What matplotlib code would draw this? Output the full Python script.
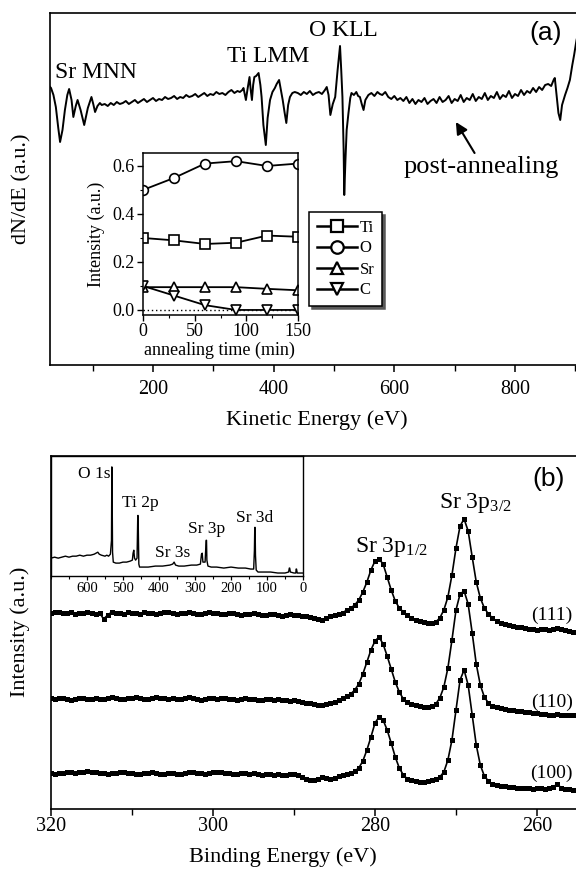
import numpy as np
import matplotlib
matplotlib.use('Agg')
import matplotlib.pyplot as plt
from matplotlib.lines import Line2D
from matplotlib.ticker import MultipleLocator, FormatStrFormatter

plt.rcParams['font.family'] = ['Liberation Serif', 'DejaVu Serif']
plt.rcParams['mathtext.fontset'] = 'stix'

# ---------------- DATA ----------------
# (a) Auger spectrum, kinetic energy (eV) and dN/dE depth (a.u., downward positive)
ke_energy = ([28, 31, 35, 39, 43, 46, 50, 54, 58, 61, 65, 68, 72, 75, 80, 86, 92, 98, 101, 104, 108, 112, 115]
             + list(range(120, 341, 5))
             + [344, 348, 350, 352, 354, 357, 360, 362, 364, 366, 368, 371, 375, 378, 380, 383, 387, 390,
                394, 398, 402, 405, 409, 412, 415, 418, 421, 424, 427, 431, 435]
             + list(range(440, 486, 5))
             + [488, 491, 494, 498, 502, 506, 510, 512, 514, 516, 517, 519, 521, 524, 527, 529, 533, 537,
                540, 543, 546, 549, 552, 557, 562, 567, 572, 576]
             + list(range(580, 851, 5))
             + [855, 860, 864, 866, 869, 872, 875, 878, 883, 887, 891, 895, 898, 902, 906, 910])
ke_depth = ([86, 88, 95, 107, 128, 142, 130, 110, 95, 89, 100, 117, 106, 100, 110, 125, 108, 97, 104, 112, 106, 103, 105]
            + [104, 106, 103, 105, 102, 104, 103, 101, 104, 102, 100, 103, 101, 99, 102, 100, 98, 101, 99, 100,
               97, 99, 98, 96, 99, 97, 98, 95, 97, 96, 94, 97, 95, 93, 96, 94, 95, 92, 94, 93, 95, 92, 90, 93, 91]
            + [92, 90, 88, 94, 100, 88, 77, 90, 100, 85, 77, 76, 73, 85, 97, 125, 145, 118, 100, 92,
               88, 84, 80, 90, 100, 112, 123, 105, 97, 93, 92]
            + [93, 95, 92, 94, 91, 95, 93, 92, 94, 90]
            + [87, 95, 115, 104, 97, 70, 46, 70, 97, 150, 195, 160, 130, 113, 98, 93, 95, 92, 96, 97,
               104, 110, 100, 95, 93, 96, 92, 94]
            + [95, 92, 97, 99, 96, 100, 98, 101, 97, 103, 99, 104, 100, 102, 98, 104, 101, 99, 103, 97,
               102, 100, 96, 103, 99, 101, 95, 102, 98, 100, 94, 101, 97, 99, 93, 100, 96, 98, 92, 99,
               95, 97, 91, 98, 94, 96, 90, 95, 91, 93, 88, 92, 87, 90, 85]
            + [84, 86, 80, 78, 95, 113, 120, 105, 95, 88, 80, 65, 55, 40, 30, 20])

# (a) inset: peak intensities vs annealing time
anneal_time = [0, 30, 60, 90, 120, 150]
int_ti = [0.30, 0.29, 0.275, 0.28, 0.31, 0.305]
int_o = [0.50, 0.55, 0.61, 0.62, 0.60, 0.61]
int_sr = [0.095, 0.095, 0.095, 0.095, 0.088, 0.082]
int_c = [0.10, 0.06, 0.02, 0.0, 0.0, 0.0]

# (b) XPS Sr 3p region, binding energy 320 -> 255 eV in 0.5 eV steps
be_start, be_step = 320.0, 0.5
xps_111 = [287, 288, 288, 287, 287, 288, 286, 287, 287, 288,
           287, 286, 287, 281, 285, 288, 287, 287, 286, 288,
           287, 287, 286, 288, 287, 287, 286, 287, 288, 288,
           287, 286, 287, 287, 288, 287, 286, 286, 287, 288,
           287,
           287, 286, 286, 287, 287, 286, 285, 286, 286, 287,
           286, 285, 285, 286, 286, 285, 284, 285, 286, 285,
           285, 284, 284, 283, 282, 281, 280, 282, 284, 285, 286, 287,
           290, 292, 295, 300, 308, 318, 330, 339, 341, 336,
           323, 310, 299, 292, 288, 285, 282, 280, 279, 278,
           277, 277, 278, 282, 290, 303, 325, 352, 374, 381,
           369, 343, 318, 302, 292, 286, 282, 279, 277, 276,
           275, 274, 273, 273, 272, 271, 271, 270, 271, 271,
           270, 271, 272, 271, 270, 269, 268, 268]
xps_110 = [202, 201, 202, 202, 201, 200, 201, 202, 202, 201,
           201, 202, 201, 201, 202, 203, 202, 201, 201, 202,
           202, 203, 202, 201, 201, 202, 203, 202, 202, 201,
           202, 201, 201, 202, 203, 202, 201, 200, 201, 202,
           202,
           201, 202, 202, 201, 201, 200, 201, 202, 201, 201,
           200, 200, 201, 201, 200, 201, 200, 200, 199, 200,
           199, 198, 197, 197, 196, 195, 195, 196, 197, 198, 200, 202,
           204, 206, 210, 216, 226, 238, 250, 259, 263, 256,
           244, 231, 218, 208, 201, 198, 196, 195, 194, 193,
           193, 194, 196, 202, 213, 232, 260, 290, 306, 309,
           296, 267, 236, 215, 203, 197, 194, 193, 192, 191,
           190, 190, 189, 189, 188, 188, 187, 187, 186, 186,
           185, 185, 186, 185, 185, 185, 185, 185]
xps_100 = [127, 126, 127, 127, 128, 128, 127, 128, 128, 129,
           128, 128, 127, 127, 126, 127, 127, 128, 128, 127,
           127, 126, 126, 127, 127, 128, 127, 126, 126, 127,
           127, 126, 126, 127, 128, 128, 127, 127, 126, 127,
           128,
           128, 128, 127, 127, 126, 126, 127, 127, 126, 127,
           126, 125, 126, 126, 125, 126, 125, 125, 126, 126,
           125, 123, 121, 120, 120, 121, 123, 122, 121, 122, 124, 125,
           126, 127, 129, 132, 139, 150, 163, 177, 183, 180,
           170, 157, 143, 132, 125, 121, 120, 119, 118, 118,
           119, 120, 121, 123, 128, 140, 160, 190, 220, 230,
           215, 185, 155, 135, 124, 119, 116, 115, 114, 114,
           113, 113, 112, 112, 112, 112, 111, 112, 112, 111,
           112, 113, 116, 112, 111, 111, 110, 110]
xps_labels = ['(111)', '(110)', '(100)']

# (b) inset: survey spectrum
survey_be = [700, 690, 680, 670, 660, 650, 640, 630, 620, 610, 600, 590, 580, 575, 570, 566, 560, 550,
             545, 540, 535, 532, 531, 530, 529, 527, 520, 510, 500, 490, 480, 474, 472, 470, 468, 465,
             461, 459, 458, 457, 456, 454, 445, 430, 410, 390, 370, 362, 358, 354, 345, 330, 310, 295,
             285, 282, 280, 278, 272, 269, 268, 267, 264, 255, 240, 220, 200, 180, 160, 145, 137, 135,
             134, 133, 132, 130, 125, 110, 90, 70, 50, 40, 38, 37, 35, 25, 20, 19, 18, 16, 5, 0]
survey_int = [42, 43, 42, 43, 44, 43, 44, 44, 45, 44, 45, 45, 46, 47, 48, 46, 45, 44,
              45, 44, 46, 60, 134, 100, 48, 38, 37, 37, 38, 38, 39, 40, 47, 50, 42, 40,
              42, 85, 85, 60, 36, 33, 33, 33, 34, 34, 35, 36, 38, 35, 34, 34, 35, 35,
              36, 46, 47, 38, 38, 60, 60, 40, 34, 33, 33, 32, 33, 32, 32, 31, 31, 50,
              73, 73, 45, 30, 28, 28, 28, 27, 27, 28, 32, 32, 28, 27, 27, 31, 31, 27, 27, 27]

# ---------------- LAYOUT ----------------
W, H = 576, 877
fig = plt.figure(figsize=(W / 100, H / 100), dpi=100)


def rect(l, t, r, b):
    return [l / W, 1 - b / H, (r - l) / W, (b - t) / H]


SANS = ['Liberation Sans', 'DejaVu Sans']
BLACK = 'black'

# ---- panel (a) ----
ke_lim = (29.3, 980.0)
ke_px_per_ev = 0.60333
ax1 = fig.add_axes(rect(50, 13, 50 + (ke_lim[1] - ke_lim[0]) * ke_px_per_ev, 365))
ax1.plot(ke_energy, -np.array(ke_depth, dtype=float), color=BLACK, lw=1.4)
ax1.set_xlim(*ke_lim)
ax1.set_ylim(-365, -13)
ax1.set_yticks([])
ax1.set_xticks([200, 400, 600, 800])
ax1.xaxis.set_minor_locator(MultipleLocator(100))
ax1.tick_params(axis='x', which='major', direction='out', length=5, width=1.1, labelsize=14.5, pad=6)
ax1.tick_params(axis='x', which='minor', direction='out', length=4, width=1.0)
for s in ax1.spines.values():
    s.set_linewidth(1.2)

ax1.text(37.6, -73, 'Sr MNN', fontsize=17, ha='left', va='center')
ax1.text(390.6, -57, 'Ti LMM', fontsize=17, ha='center', va='center')
ax1.text(515, -31, 'O KLL', fontsize=17, ha='center', va='center')
ax1.text(744, -167, 'post-annealing', fontsize=19, ha='center', va='center')
ax1.annotate('', xy=(702, -122), xytext=(733, -153),
             arrowprops=dict(arrowstyle='-|>,head_length=0.7,head_width=0.35', color=BLACK, lw=1.5,
                             shrinkA=0, shrinkB=0))
fig.text(546 / W, 1 - 33 / H, '(a)', family=SANS, fontsize=19, ha='center', va='center')
fig.text(317 / W, 1 - 420 / H, 'Kinetic Energy (eV)', fontsize=16, ha='center', va='center')
fig.text(22 / W, 1 - 189 / H, 'dN/dE (a.u.)', fontsize=16, ha='center', va='center', rotation=90)

# inset of (a)
axi = fig.add_axes(rect(143, 153, 298, 315))
axi.axhline(0, ls=(0, (1, 2)), color=BLACK, lw=1.0)
series = [(int_ti, 's', 'Ti'), (int_o, 'o', 'O'), (int_sr, '^', 'Sr'), (int_c, 'v', 'C')]
handles = []
for vals, mk, lab in series:
    axi.plot(anneal_time, vals, '-', marker=mk, color=BLACK, mfc='white', mec=BLACK,
             ms=7, mew=1.2, lw=1.3)
    handles.append(Line2D([], [], color=BLACK, marker=mk, mfc='white', mec=BLACK, ms=9, mew=1.6, lw=1.8))
axi.set_xlim(0, 150)
axi.set_ylim(-0.021, 0.654)
axi.set_xticks([0, 50, 100, 150])
axi.xaxis.set_minor_locator(MultipleLocator(25))
axi.set_yticks([0.0, 0.2, 0.4, 0.6])
axi.yaxis.set_minor_locator(MultipleLocator(0.1))
axi.yaxis.set_major_formatter(FormatStrFormatter('%.1f'))
axi.tick_params(which='major', direction='out', length=4, width=1.0, labelsize=13, pad=2)
axi.tick_params(which='minor', direction='out', length=2.5, width=0.8)
for s in axi.spines.values():
    s.set_linewidth(1.1)
fig.text(96 / W, 1 - 234 / H, 'Intensity (a.u.)', fontsize=13, ha='center', va='center', rotation=90)
fig.text(219.5 / W, 1 - 350 / H, 'annealing time (min)', fontsize=13, ha='center', va='center')

leg = fig.legend(handles, [s[2] for s in series], loc='upper left',
                 bbox_to_anchor=(309 / W, 1 - 212 / H), frameon=True, fancybox=False,
                 edgecolor=BLACK, framealpha=1, fontsize=12, handlelength=2.4, handletextpad=0.2,
                 labelspacing=0.3, borderpad=0.45, borderaxespad=0,
                 shadow={'facecolor': '0.35', 'edgecolor': '0.35', 'alpha': 1.0})
leg.get_frame().set_linewidth(1.1)

# ---- panel (b) ----
be_lim = (320.0, 250.0)
be_px_per_ev = 8.1
ax2 = fig.add_axes(rect(51, 456, 51 + (be_lim[0] - be_lim[1]) * be_px_per_ev, 809))
n_pts = min(len(xps_111), len(xps_110), len(xps_100))
be = be_start - be_step * np.arange(n_pts)
for vals in (xps_111, xps_110, xps_100):
    ax2.plot(be, vals[:n_pts], '-', marker='s', color=BLACK, ms=3.6, lw=1.2, mew=0)
ax2.set_xlim(*be_lim)
ax2.set_ylim(91, 444)
ax2.set_yticks([])
ax2.set_xticks([320, 300, 280, 260])
ax2.xaxis.set_minor_locator(MultipleLocator(10))
ax2.tick_params(axis='x', which='major', direction='out', length=5, width=1.1, labelsize=14.5, pad=1)
ax2.tick_params(axis='x', which='minor', direction='out', length=4, width=1.0)
for s in ax2.spines.values():
    s.set_linewidth(1.2)
for lab, yv in zip(xps_labels, [285, 198, 127]):
    ax2.text(255.6, yv, lab, fontsize=14, ha='right', va='center')
ax2.text(282.5, 353, r'Sr 3p$_{\mathregular{1/2}}$', fontsize=17, ha='left', va='center')
ax2.text(272.1, 397, r'Sr 3p$_{\mathregular{3/2}}$', fontsize=17, ha='left', va='center')
fig.text(549 / W, 1 - 479 / H, '(b)', family=SANS, fontsize=19, ha='center', va='center')
fig.text(283 / W, 1 - 857 / H, 'Binding Energy (eV)', fontsize=16, ha='center', va='center')
fig.text(20 / W, 1 - 632 / H, 'Intensity (a.u.)', fontsize=16, ha='center', va='center', rotation=90)

# inset of (b)
ax3 = fig.add_axes(rect(51, 456, 303, 576))
ax3.plot(survey_be, survey_int, color=BLACK, lw=1.0)
ax3.set_xlim(700, 0)
ax3.set_ylim(24, 145)
ax3.set_yticks([])
ax3.set_xticks([600, 500, 400, 300, 200, 100, 0])
ax3.xaxis.set_minor_locator(MultipleLocator(50))
ax3.tick_params(axis='x', which='major', direction='out', length=3, width=0.9, labelsize=10.5, pad=1.5)
ax3.tick_params(axis='x', which='minor', direction='out', length=2, width=0.8)
for s in ax3.spines.values():
    s.set_linewidth(1.0)
ax3.text(536, 127, 'O 1s', fontsize=12.5, ha='right', va='center')
ax3.text(503, 98, 'Ti 2p', fontsize=12.5, ha='left', va='center')
ax3.text(411, 47, 'Sr 3s', fontsize=12.5, ha='left', va='center')
ax3.text(319, 71, 'Sr 3p', fontsize=12.5, ha='left', va='center')
ax3.text(186, 82, 'Sr 3d', fontsize=12.5, ha='left', va='center')

fig.savefig('out.png', dpi=100)
